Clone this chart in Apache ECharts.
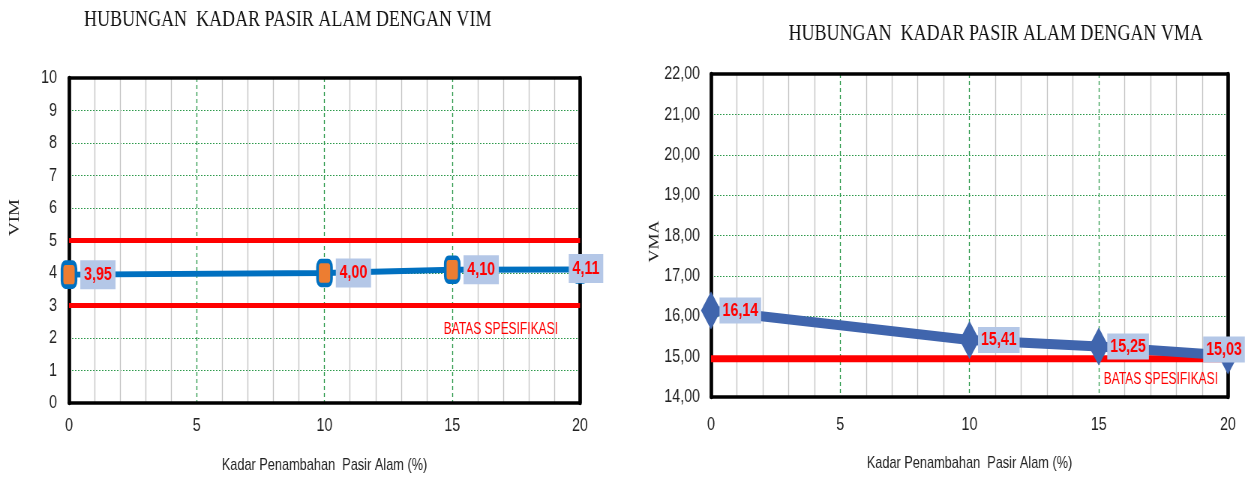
<!DOCTYPE html>
<html>
<head>
<meta charset="utf-8">
<script src="https://cdn.jsdelivr.net/npm/echarts@6/dist/echarts.min.js"></script>
<style>
  html, body { margin: 0; padding: 0; background: #fff; overflow: hidden; }
  #wrap { width: 1248px; height: 479px; overflow: hidden; }
  /* the charts use a condensed (narrow) type look: draw wide, squeeze horizontally */
  #chart { width: 1664px; height: 479px; transform: scaleX(0.75); transform-origin: 0 0; }
</style>
</head>
<body>
<div id="wrap"><div id="chart"></div></div>
<script>
// Sand content (%) on the x axis, shared by both panels
const sandContent = [0, 10, 15, 20];
// VIM (%) per sand content
const vimValues = [3.95, 4.00, 4.10, 4.11];
// VMA (%) per sand content
const vmaValues = [16.14, 15.41, 15.25, 15.03];
// Specification limits
const vimLimits = [5, 3];
const vmaLimit = 14.95;
const limitText = 'BATAS SPESIFIKASI';
const titleVim = 'HUBUNGAN  KADAR PASIR ALAM DENGAN VIM';
const titleVma = 'HUBUNGAN  KADAR PASIR ALAM DENGAN VMA';
const xName = 'Kadar Penambahan  Pasir Alam (%)';

// horizontal squeeze applied to the whole drawing (see CSS)
const S = 0.75;
const W = v => v / S;

const SANS = "'Liberation Sans', Arial, sans-serif";
const SERIF = "'Liberation Serif', 'Times New Roman', serif";
const comma = v => v.toFixed(2).replace('.', ',');

const chart = echarts.init(document.getElementById('chart'));

const grids = [
  { left: W(69), top: 78, width: W(511), height: 332 },
  { left: W(711), top: 74, width: W(517), height: 323 }
];

function mainX(gi) {
  return {
    type: 'value', gridIndex: gi, min: 0, max: 20, interval: 5, position: 'bottom',
    name: xName, nameLocation: 'middle', nameGap: gi === 0 ? 54 : 58,
    nameTextStyle: { color: '#222', fontFamily: SANS, fontSize: 17 },
    axisLine: { show: false }, axisTick: { show: false },
    axisLabel: { color: '#222', fontFamily: SANS, fontSize: 19, margin: gi === 0 ? 13 : 18 },
    splitLine: { show: true, lineStyle: { color: '#2e9a4c', type: [4, 3], width: 1.33 } },
    minorTick: { show: false, splitNumber: 5 },
    minorSplitLine: { show: true, lineStyle: { color: '#c4c4c4', width: 1.33 } }
  };
}
function borderAxis(gi, pos, min, max, width) {
  return {
    type: 'value', gridIndex: gi, min: min, max: max, position: pos, z: 1,
    axisLine: { show: true, onZero: false, lineStyle: { color: '#000', width: width } },
    axisTick: { show: false }, axisLabel: { show: false },
    splitLine: { show: false }
  };
}

const xAxis = [
  mainX(0), borderAxis(0, 'top', 0, 20, 3.5), borderAxis(0, 'bottom', 0, 20, 3.5),
  mainX(1), borderAxis(1, 'top', 0, 20, 3.5), borderAxis(1, 'bottom', 0, 20, 3.5)
];

const yAxis = [
  {
    type: 'value', gridIndex: 0, min: 0, max: 10, interval: 1,
    name: 'VIM', nameLocation: 'middle', nameGap: 62, nameRotate: 90,
    nameTextStyle: { color: '#222', fontFamily: SERIF, fontSize: 19, padding: [0, 0, 0, 46] },
    axisLine: { show: false }, axisTick: { show: false },
    axisLabel: { color: '#222', fontFamily: SANS, fontSize: 19, margin: W(12) },
    splitLine: { show: true, lineStyle: { color: '#2e9a4c', type: [2, 2], width: 1 } }
  },
  borderAxis(0, 'left', 0, 10, W(3.5)), borderAxis(0, 'right', 0, 10, W(3.5)),
  {
    type: 'value', gridIndex: 1, min: 14, max: 22, interval: 1,
    name: 'VMA', nameLocation: 'middle', nameGap: 56, nameRotate: 90,
    nameTextStyle: { color: '#222', fontFamily: SERIF, fontSize: 18, padding: [0, 12, 0, 0] },
    axisLine: { show: false }, axisTick: { show: false },
    axisLabel: { color: '#222', fontFamily: SANS, fontSize: 19, margin: W(11), formatter: v => comma(v) },
    splitLine: { show: true, lineStyle: { color: '#2e9a4c', type: [2, 2], width: 1 } }
  },
  borderAxis(1, 'left', 14, 22, W(3.5)), borderAxis(1, 'right', 14, 22, W(3.5))
];

const labelBase = {
  show: true, color: '#ff0000', fontFamily: SANS, fontWeight: 'bold', fontSize: 19,
  backgroundColor: '#b4c7e7', formatter: p => comma(p.value[1])
};

function pointData(values, lastLabel) {
  return sandContent.map((x, i) => {
    const item = { value: [x, values[i]] };
    if (i === values.length - 1) item.label = lastLabel;
    return item;
  });
}

function limitSeries(xi, yi, y, width, text, coord) {
  const s = {
    type: 'line', xAxisIndex: xi, yAxisIndex: yi, z: 2, silent: true,
    symbol: 'none', lineStyle: { color: '#ff0000', width: width },
    data: [[0, y], [20, y]]
  };
  if (text) {
    s.markPoint = {
      symbol: 'rect', symbolSize: 0,
      label: { show: true, position: 'inside', formatter: text, color: '#ff0000', fontFamily: SANS, fontSize: 16 },
      data: [{ coord: coord }]
    };
  }
  return s;
}

chart.setOption({
  backgroundColor: '#fff',
  animation: false,
  title: [
    { text: titleVim, left: W(284), top: 3, textAlign: 'center',
      textStyle: { fontFamily: SERIF, fontWeight: 'normal', fontSize: 24, color: '#111' } },
    { text: titleVma, left: W(992), top: 17, textAlign: 'center',
      textStyle: { fontFamily: SERIF, fontWeight: 'normal', fontSize: 24, color: '#111' } }
  ],
  grid: grids,
  xAxis: xAxis,
  yAxis: yAxis,
  series: [
    limitSeries(0, 0, vimLimits[0], 5),
    limitSeries(0, 0, vimLimits[1], 5, limitText, [16.9, 2.25]),
    {
      type: 'line', xAxisIndex: 0, yAxisIndex: 0, z: 3,
      data: pointData(vimValues, { position: 'inside', offset: [W(6), -1] }),
      lineStyle: { color: '#0070c0', width: 6 },
      symbol: 'roundRect', symbolSize: [W(14), 24], showAllSymbol: true,
      itemStyle: { color: '#ed7d31', borderColor: '#0070c0', borderWidth: 4 },
      label: Object.assign({}, labelBase, { position: 'right', distance: 4, padding: [6, 5, 4, 5] })
    },
    limitSeries(3, 3, vmaLimit, 7, limitText, [17.4, 14.42]),
    {
      type: 'line', xAxisIndex: 3, yAxisIndex: 3, z: 3,
      data: pointData(vmaValues, { position: 'inside', offset: [W(-4), -6] }),
      lineStyle: { color: '#4065ad', width: 10 },
      symbol: 'diamond', symbolSize: [W(20), 38], showAllSymbol: true,
      itemStyle: { color: '#4065ad' },
      label: Object.assign({}, labelBase, { position: 'right', distance: -2, padding: [4, 4, 3, 4] })
    }
  ]
});
</script>
</body>
</html>
